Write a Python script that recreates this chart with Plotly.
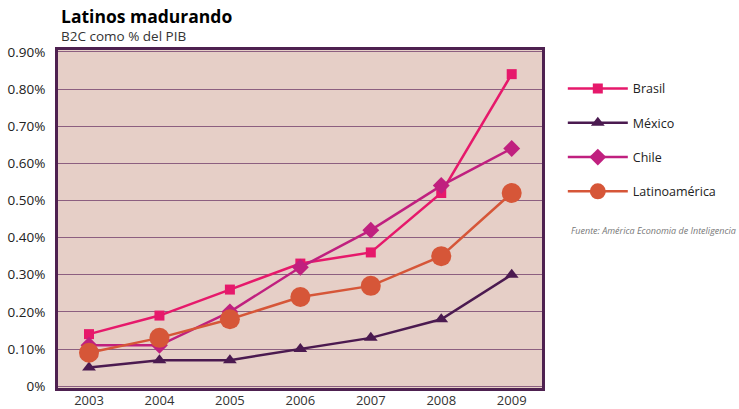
import plotly.graph_objects as go

years = ["2003", "2004", "2005", "2006", "2007", "2008", "2009"]
brasil = [0.14, 0.19, 0.26, 0.33, 0.36, 0.52, 0.84]
mexico = [0.05, 0.07, 0.07, 0.10, 0.13, 0.18, 0.30]
chile = [0.11, 0.11, 0.20, 0.32, 0.42, 0.54, 0.64]
latam = [0.09, 0.13, 0.18, 0.24, 0.27, 0.35, 0.52]

tick_vals = [0, 0.1, 0.2, 0.3, 0.4, 0.5, 0.6, 0.7, 0.8, 0.9]
tick_text = ["0%", "0.10%", "0.20%", "0.30%", "0.40%", "0.50%", "0.60%", "0.70%", "0.80%", "0.90%"]

series = [
    ("Brasil", brasil, "#e6196b", "square", 10),
    ("México", mexico, "#4b1a50", "triangle-up", 12),
    ("Chile", chile, "#c0207f", "diamond", 13),
    ("Latinoamérica", latam, "#d65638", "circle", 20),
]

fig = go.Figure()
for i, (name, vals, color, sym, size) in enumerate(series):
    fig.add_trace(go.Scatter(
        x=years, y=vals, name=name, mode="lines+markers",
        line=dict(color=color, width=2.5),
        marker=dict(color=color, symbol=sym, size=size),
        legendgroup=str(i),
    ))

fig.update_layout(
    width=739, height=409,
    margin=dict(l=58, r=197, t=50, b=21),
    paper_bgcolor="white",
    plot_bgcolor="#e6cfc7",
    font=dict(family="Open Sans, Noto Sans, sans-serif", color="#222"),
    showlegend=True,
    legend=dict(
        x=1.043, y=0.929, xanchor="left", yanchor="top",
        font=dict(size=12.5, color="#222"),
        tracegroupgap=15, itemwidth=60, itemsizing="trace",
        bgcolor="rgba(0,0,0,0)",
    ),
    xaxis=dict(
        type="category", range=[-0.44, 6.43], automargin=False,
        showgrid=False, ticks="", tickfont=dict(size=13, color="#333"),
        ticklabelstandoff=-2,
        showline=True, linecolor="#4e2150", linewidth=3, mirror=True,
    ),
    yaxis=dict(
        range=[-0.005, 0.905], tickvals=tick_vals, ticktext=tick_text,
        tickfont=dict(size=13.5, color="#222"), automargin=False,
        showgrid=True, gridcolor="#8c5f80", gridwidth=1,
        zeroline=False, ticks="", ticklabelstandoff=7,
        showline=True, linecolor="#4e2150", linewidth=3, mirror=True,
    ),
)
fig.add_annotation(text="<b>Latinos madurando</b>", xref="paper", yref="paper",
                   x=0.004, y=1.0, yshift=34, xanchor="left", yanchor="middle",
                   borderpad=0, showarrow=False, font=dict(size=17.5, color="#000"))
fig.add_annotation(text="B2C como % del PIB", xref="paper", yref="paper",
                   x=0.004, y=1.0, yshift=14, xanchor="left", yanchor="middle",
                   borderpad=0, showarrow=False, font=dict(size=13.5, color="#333"))
fig.add_annotation(text="<i>Fuente: América Economia de Inteligencia</i>", xref="paper", yref="paper",
                   x=1.0, xshift=196, y=0.467, xanchor="right", yanchor="middle",
                   showarrow=False, font=dict(size=9, color="#777"))

fig.write_html("out.html", post_script="document.body.style.margin='0';",
               config={"displayModeBar": False})
